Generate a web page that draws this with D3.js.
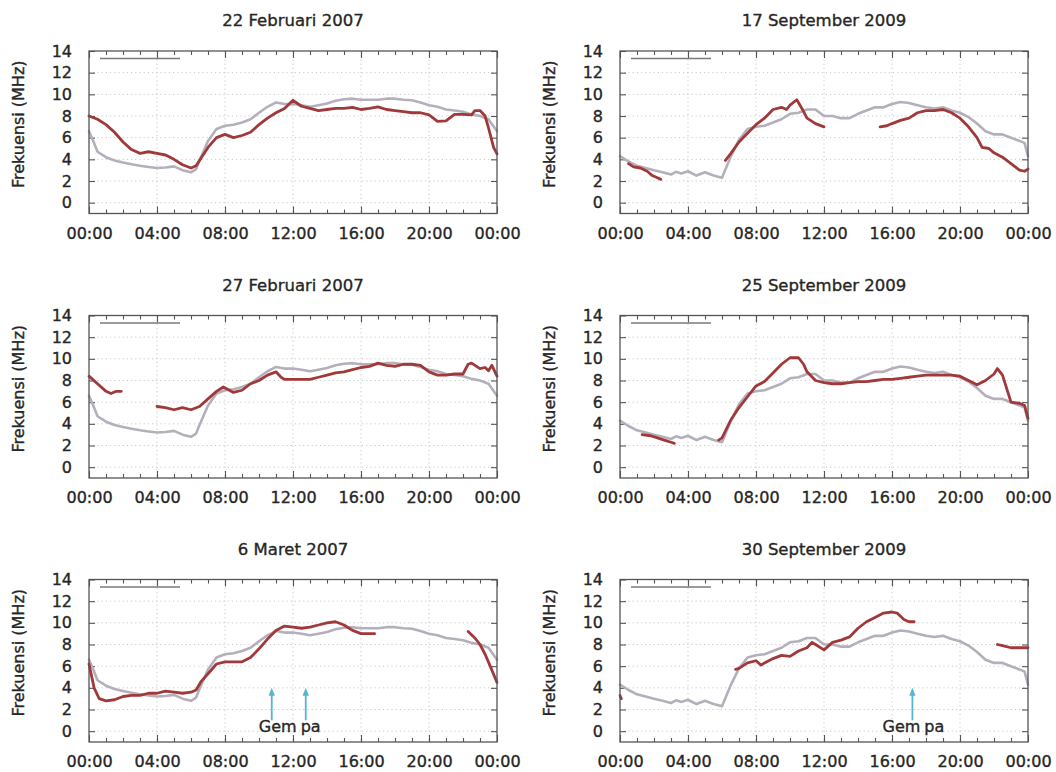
<!DOCTYPE html>
<html>
<head>
<meta charset="utf-8">
<script src="https://cdn.jsdelivr.net/npm/d3@7"></script>
<style>
  html, body { margin: 0; padding: 0; background: #ffffff; }
  svg { display: block; }
  text { font-family: "DejaVu Sans", sans-serif; fill: #262626; stroke: #262626; stroke-width: 0.35px; }
</style>
</head>
<body>
<svg id="chart" width="1056" height="772"></svg>
<script>
// Hourly x tick labels and y tick values
const hourTickValues = [0, 4, 8, 12, 16, 20, 24];
const hourTickLabels = ["00:00", "04:00", "08:00", "12:00", "16:00", "20:00", "00:00"];
const freqTickValues = [0, 2, 4, 6, 8, 10, 12, 14];

// Monthly median foF2 (gray reference curves), [hour, MHz]
const median2007 = [[0,6.6],[0.25,5.7],[0.5,4.7],[1,4.2],[1.5,3.9],[2,3.7],[2.5,3.55],[3,3.4],[3.5,3.3],[4,3.2],[4.5,3.25],[5,3.35],[5.5,3.0],[6,2.8],[6.3,3.1],[6.5,3.9],[7,5.7],[7.5,6.8],[8,7.1],[8.5,7.2],[9,7.4],[9.5,7.7],[10,8.3],[10.5,8.85],[11,9.25],[11.5,9.1],[12,9.1],[12.5,9.0],[13,8.85],[13.5,9.0],[14,9.15],[14.5,9.4],[15,9.55],[15.5,9.6],[16,9.5],[16.5,9.5],[17,9.5],[17.5,9.6],[18,9.6],[18.5,9.5],[19,9.45],[19.5,9.25],[20,9.0],[20.5,8.85],[21,8.6],[21.5,8.5],[22,8.4],[22.5,8.15],[23,8.0],[23.5,7.7],[24,6.6]];
const median2009 = [[0,4.3],[0.5,3.8],[1,3.4],[1.5,3.2],[2,3.0],[2.5,2.8],[3,2.6],[3.3,2.85],[3.6,2.7],[4,2.9],[4.5,2.5],[5,2.8],[5.5,2.5],[6,2.3],[6.5,4.2],[7,5.8],[7.5,6.8],[8,7.0],[8.5,7.1],[9,7.4],[9.5,7.7],[10,8.2],[10.5,8.3],[11,8.6],[11.5,8.6],[12,8.0],[12.5,8.0],[13,7.8],[13.5,7.8],[14,8.2],[14.5,8.5],[15,8.8],[15.5,8.8],[16,9.1],[16.5,9.3],[17,9.2],[17.5,9.0],[18,8.8],[18.5,8.7],[19,8.8],[19.5,8.5],[20,8.3],[20.5,7.9],[21,7.3],[21.5,6.6],[22,6.3],[22.5,6.3],[23,6.0],[23.5,5.7],[23.8,5.5],[24,4.3]];

// Daily foF2 observations (red curves), split where data is missing
const feb22_2007 = [
  [[0,8.0],[0.5,7.7],[1,7.2],[1.5,6.5],[2,5.6],[2.5,4.9],[3,4.55],[3.5,4.7],[4,4.55],[4.5,4.4],[5,4.0],[5.5,3.5],[6,3.2],[6.3,3.4],[6.5,3.9],[7,5.1],[7.5,6.0],[8,6.3],[8.5,6.0],[9,6.2],[9.5,6.5],[10,7.2],[10.5,7.8],[11,8.3],[11.5,8.7],[12,9.45],[12.5,8.9],[13,8.7],[13.5,8.5],[14,8.6],[14.5,8.7],[15,8.7],[15.5,8.8],[16,8.6],[16.5,8.7],[17,8.85],[17.5,8.6],[18,8.5],[18.5,8.4],[19,8.3],[19.5,8.3],[20,8.1],[20.5,7.5],[21,7.55],[21.5,8.15],[22,8.15],[22.5,8.1],[22.7,8.5],[23,8.5],[23.3,8.0],[23.5,6.9],[23.8,5.1],[24,4.5]]
];
const feb27_2007 = [
  [[0,8.4],[0.5,7.7],[1,7.0],[1.3,6.8],[1.6,7.0],[1.9,7.0]],
  [[4,5.6],[4.5,5.5],[5,5.3],[5.5,5.5],[6,5.3],[6.5,5.6],[7,6.3],[7.5,7.0],[7.9,7.4],[8.5,6.9],[9,7.1],[9.5,7.7],[10,8.0],[10.5,8.5],[11,8.8],[11.3,8.3],[11.5,8.1],[12,8.1],[12.5,8.1],[13,8.1],[13.5,8.3],[14,8.5],[14.5,8.7],[15,8.8],[15.5,9.0],[16,9.2],[16.5,9.3],[17,9.6],[17.5,9.4],[18,9.3],[18.5,9.5],[19,9.5],[19.5,9.4],[20,8.8],[20.5,8.5],[21,8.5],[21.5,8.6],[22,8.6],[22.3,9.5],[22.5,9.6],[23,9.1],[23.3,9.2],[23.5,8.9],[23.7,9.4],[24,8.4]]
];
const mar6_2007 = [
  [[0,6.2],[0.3,4.0],[0.6,3.0],[1,2.8],[1.5,2.9],[2,3.2],[2.5,3.3],[3,3.3],[3.5,3.5],[4,3.5],[4.5,3.7],[5,3.6],[5.5,3.5],[6,3.6],[6.3,3.8],[6.6,4.6],[7,5.3],[7.5,6.2],[8,6.4],[8.5,6.4],[9,6.4],[9.5,6.8],[10,7.6],[10.5,8.5],[11,9.3],[11.5,9.7],[12,9.6],[12.5,9.5],[13,9.6],[13.5,9.8],[14,10.0],[14.5,10.1],[15,9.8],[15.5,9.3],[16,9.0],[16.5,9.0],[16.8,9.0]],
  [[22.3,9.2],[22.7,8.6],[23,8.0],[23.3,7.1],[23.6,6.0],[24,4.5]]
];
const sep17_2009 = [
  [[0.5,3.6],[0.8,3.3],[1.2,3.2],[1.6,2.9],[1.9,2.5],[2.2,2.3],[2.4,2.15]],
  [[6.2,3.9],[6.5,4.5],[7,5.6],[7.5,6.4],[8,7.2],[8.5,7.8],[9,8.6],[9.5,8.8],[9.8,8.6],[10,9.0],[10.4,9.5],[10.7,8.7],[11,7.8],[11.5,7.3],[12,7.0]],
  [[15.3,7.0],[15.7,7.1],[16,7.3],[16.5,7.6],[17,7.8],[17.5,8.3],[18,8.5],[18.5,8.5],[19,8.6],[19.5,8.3],[20,7.8],[20.5,7.0],[21,6.0],[21.3,5.1],[21.7,5.0],[22,4.6],[22.5,4.2],[23,3.6],[23.5,3.0],[23.8,2.9],[24,3.1]]
];
const sep25_2009 = [
  [[1.3,3.0],[1.8,2.9],[2.2,2.7],[2.6,2.5],[3.0,2.3],[3.2,2.2]],
  [[5.8,2.5],[6,2.7],[6.5,4.3],[7,5.5],[7.5,6.5],[8,7.5],[8.5,7.9],[9,8.7],[9.5,9.5],[10,10.1],[10.5,10.1],[10.8,9.5],[11,8.8],[11.5,8.0],[12,7.8],[12.5,7.7],[13,7.7],[13.5,7.8],[14,7.9],[14.5,7.9],[15,8.0],[15.5,8.1],[16,8.1],[16.5,8.2],[17,8.3],[17.5,8.4],[18,8.5],[18.5,8.5],[19,8.5],[19.5,8.5],[20,8.4],[20.5,8.0],[21,7.6],[21.5,8.0],[22,8.6],[22.2,9.1],[22.5,8.5],[22.8,7.0],[23,6.0],[23.5,5.9],[23.8,5.7],[24,4.5]]
];
const sep30_2009 = [
  [[0,3.3],[0.08,3.0]],
  [[6.8,5.7],[7,5.8],[7.5,6.3],[8,6.5],[8.3,6.1],[8.5,6.3],[9,6.7],[9.5,7.0],[10,6.9],[10.5,7.4],[11,7.7],[11.3,8.2],[11.5,8.0],[12,7.5],[12.5,8.2],[13,8.4],[13.5,8.7],[14,9.5],[14.5,10.1],[15,10.5],[15.5,10.9],[16,11.0],[16.3,10.9],[16.7,10.3],[17,10.1],[17.3,10.1]],
  [[22.2,8.0],[22.5,7.9],[23,7.7],[23.5,7.7],[24,7.7]]
];

// Earthquake times (hour of day)
const gempaMar6 = [10.75, 12.75];
const gempaSep30 = [17.2];

const panelTitles = ["22 Februari 2007", "17 September 2009", "27 Februari 2007", "25 September 2009", "6 Maret 2007", "30 September 2009"];
const yLabel = "Frekuensi (MHz)";
const gempaLabel = ["Gem", "pa"];

const panels = [
  { title: panelTitles[0], median: median2007, obs: feb22_2007, quakes: [] },
  { title: panelTitles[1], median: median2009, obs: sep17_2009, quakes: [] },
  { title: panelTitles[2], median: median2007, obs: feb27_2007, quakes: [] },
  { title: panelTitles[3], median: median2009, obs: sep25_2009, quakes: [] },
  { title: panelTitles[4], median: median2007, obs: mar6_2007, quakes: gempaMar6 },
  { title: panelTitles[5], median: median2009, obs: sep30_2009, quakes: gempaSep30 }
];

// Layout
const colLeft = [89, 620];
const rowTop = [51, 315.5, 579.5];
const plotW = 408, plotH = 162.5;

const svg = d3.select("#chart");
const x = d3.scaleLinear().domain([0, 24]).range([0, plotW]);
const y = d3.scaleLinear().domain([-1, 14]).range([plotH, 0]);
const line = d3.line().x(d => x(d[0])).y(d => y(d[1]));

const RED = "#a0393a", GRAY = "#b5afbb", FRAME = "#555", GRID = "#c8c8c8", CYAN = "#55b6d4";

panels.forEach((p, i) => {
  const g = svg.append("g")
    .attr("transform", `translate(${colLeft[i % 2]},${rowTop[Math.floor(i / 2)]})`);

  // dotted grid
  g.selectAll(".hgrid").data([0, 2, 4, 6, 8, 10, 12]).join("line")
    .attr("x1", 0).attr("x2", plotW)
    .attr("y1", d => y(d)).attr("y2", d => y(d))
    .attr("stroke", GRID).attr("stroke-width", 1).attr("stroke-dasharray", "1.2,3");
  g.selectAll(".vgrid").data([4, 8, 12, 16, 20]).join("line")
    .attr("x1", d => x(d)).attr("x2", d => x(d))
    .attr("y1", 0).attr("y2", plotH)
    .attr("stroke", GRID).attr("stroke-width", 1).attr("stroke-dasharray", "1.2,3");

  // inward ticks on all four sides
  const styleAxis = sel => {
    sel.select(".domain").remove();
    sel.selectAll(".tick line").attr("stroke", FRAME).attr("stroke-width", 1.1);
  };
  const styleLabels = a => a.selectAll("text")
    .attr("font-size", 16).attr("fill", "#262626")
    .attr("font-family", "DejaVu Sans, sans-serif");
  const hours = d3.range(1, 24);
  g.append("g").attr("transform", `translate(0,${plotH})`)
    .call(d3.axisBottom(x).tickValues(hours).tickSize(-4).tickFormat(""))
    .call(styleAxis);
  g.append("g")
    .call(d3.axisTop(x).tickValues(hours).tickSize(-4).tickFormat(""))
    .call(styleAxis);
  g.append("g").attr("transform", `translate(0,${plotH})`)
    .call(d3.axisBottom(x).tickValues(hourTickValues).tickSize(-7).tickPadding(14)
      .tickFormat((d, k) => hourTickLabels[k]))
    .call(styleAxis)
    .call(styleLabels);
  g.append("g")
    .call(d3.axisTop(x).tickValues(hourTickValues).tickSize(-7).tickFormat(""))
    .call(styleAxis);
  g.append("g")
    .call(d3.axisLeft(y).tickValues(freqTickValues).tickSize(-6).tickPadding(17))
    .call(styleAxis)
    .call(styleLabels);
  g.append("g").attr("transform", `translate(${plotW},0)`)
    .call(d3.axisRight(y).tickValues(freqTickValues).tickSize(-6).tickFormat(""))
    .call(styleAxis);

  // legend key stub
  g.append("line")
    .attr("x1", 11).attr("x2", 91).attr("y1", 7.5).attr("y2", 7.5)
    .attr("stroke", "#7a7a7a").attr("stroke-width", 1.3);

  // curves
  g.append("path").datum(p.median)
    .attr("d", line).attr("fill", "none")
    .attr("stroke", GRAY).attr("stroke-width", 2.6)
    .attr("stroke-linejoin", "round").attr("stroke-linecap", "round");
  g.selectAll(".obs").data(p.obs).join("path")
    .attr("d", line).attr("fill", "none")
    .attr("stroke", RED).attr("stroke-width", 2.8)
    .attr("stroke-linejoin", "round").attr("stroke-linecap", "round");

  // frame
  g.append("rect").attr("width", plotW).attr("height", plotH)
    .attr("fill", "none").attr("stroke", FRAME).attr("stroke-width", 1.3);

  // earthquake markers
  if (p.quakes.length) {
    p.quakes.forEach(q => {
      g.append("line")
        .attr("x1", x(q)).attr("x2", x(q))
        .attr("y1", y(1.0)).attr("y2", y(4.0) + 5)
        .attr("stroke", CYAN).attr("stroke-width", 1.8);
      g.append("path")
        .attr("d", `M${x(q)},${y(4.0)} l-3.2,8 l6.4,0 z`)
        .attr("fill", CYAN);
    });
    const t = g.append("text")
      .attr("x", x(d3.mean(p.quakes)) + 1)
      .attr("y", y(0) + 0.5)
      .attr("text-anchor", "middle")
      .attr("font-size", 16);
    t.append("tspan").text(gempaLabel[0]);
    t.append("tspan").attr("dx", 4).text(gempaLabel[1]);
  }

  // title
  g.append("text")
    .attr("x", plotW / 2).attr("y", -25)
    .attr("text-anchor", "middle")
    .attr("font-size", 16.5)
    .text(p.title);

  // y axis label
  g.append("text")
    .attr("transform", `translate(-65,${plotH / 2 - 8}) rotate(-90)`)
    .attr("text-anchor", "middle")
    .attr("font-size", 16)
    .text(yLabel);
});
</script>
</body>
</html>
